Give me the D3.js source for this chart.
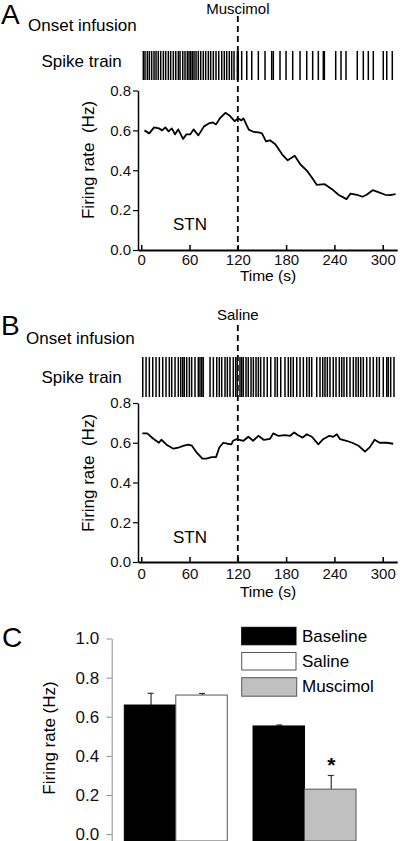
<!DOCTYPE html>
<html><head><meta charset="utf-8">
<script src="https://cdn.jsdelivr.net/npm/d3@7"></script>
<style>
body{margin:0;background:#fff}
svg{display:block}
text{font-family:"Liberation Sans",Arial,Helvetica,sans-serif;fill:#000}
.rot{opacity:0.995}
</style>
</head><body>
<svg id="c" width="420" height="841"></svg>
<script>
// ---------- DATA ----------
const timeTicks = [0, 60, 120, 180, 240, 300];
const rateTicks = [0, 0.2, 0.4, 0.6, 0.8];
const barTicks = [0, 0.2, 0.4, 0.6, 0.8, 1.0];
const infusionTime = 120;

// spike times (s)
const spikesA = [2.6,4.7,7.6,10.1,13.0,15.9,18.4,21.2,24.2,27.5,30.4,33.7,36.6,39.9,42.9,46.1,48.2,51.6,54.4,57.3,59.4,61.5,63.5,65.6,68.1,70.9,73.9,77.1,80.1,83.4,86.3,89.6,92.9,96.3,100.0,103.2,106.2,109.4,112.4,115.3,119.4,
  120.6,124.8,131.1,137.3,145.5,153.8,162.1,164.1,172.4,179.9,188.2,197.3,205.6,213.0,220.0,226.2,227.5,241.6,248.2,254.4,268.4,275.9,282.1,288.3,300.7,305.0,311.9];
const spikesB = [1.9,6.0,10.1,14.3,18.4,22.5,26.7,30.8,34.9,37.9,42.0,46.1,49.1,51.6,53.5,56.5,59.8,62.7,66.8,70.9,73.0,75.2,77.1,85.5,89.6,93.8,97.0,100.0,104.1,107.0,110.3,114.4,117.4,119.4,
  122.7,124.8,126.8,130.2,133.0,136.4,139.3,142.6,145.5,148.4,152.5,156.6,160.9,166.2,169.1,173.3,178.6,182.7,185.7,188.9,193.2,197.3,201.4,205.6,208.8,211.8,218.0,222.1,225.5,228.3,231.2,234.5,238.6,242.0,246.1,249.1,251.9,255.3,259.4,263.5,266.8,269.7,272.7,275.9,280.1,284.2,288.3,292.5,295.8,300.7,305.0,306.9,309.9,314.0];

// firing rate [time (s), rate (Hz)]
const rateA = [[4,0.60],[10,0.585],[16,0.615],[22,0.61],[26,0.60],[30,0.615],[34,0.595],[38,0.61],[42,0.58],[46,0.605],[52,0.557],[56,0.58],[61,0.58],[65,0.605],[71,0.575],[78,0.62],[84,0.635],[89,0.64],[93,0.63],[98,0.662],[104.6,0.688],[109.6,0.675],[116,0.646],[120,0.66],[124.5,0.65],[127,0.66],[133.6,0.604],[140,0.592],[146,0.59],[150,0.585],[155,0.545],[160,0.55],[166.6,0.53],[175,0.48],[182,0.45],[190.7,0.473],[197.6,0.43],[206,0.397],[212,0.364],[218,0.327],[228,0.33],[237,0.305],[245,0.277],[255,0.255],[260,0.283],[268,0.277],[275,0.267],[280,0.277],[287.6,0.30],[294.5,0.29],[303,0.277],[309,0.275],[316,0.28]];
const rateB = [[1.4,0.647],[7.5,0.647],[15,0.62],[22,0.60],[25,0.615],[32.5,0.587],[40,0.57],[46,0.575],[52,0.584],[58.5,0.59],[63,0.585],[69,0.55],[76,0.52],[81,0.52],[87.5,0.528],[93,0.528],[97,0.576],[102,0.60],[107,0.595],[112,0.592],[114,0.61],[118.6,0.618],[127,0.61],[133,0.63],[139,0.61],[145.5,0.635],[152.5,0.614],[160,0.62],[164,0.647],[170,0.635],[178.6,0.638],[185,0.635],[190,0.652],[195,0.638],[200.6,0.626],[205.6,0.643],[212,0.63],[220,0.592],[226,0.618],[233.7,0.635],[238.6,0.63],[243,0.643],[247,0.618],[255,0.61],[262,0.6],[270,0.585],[278,0.555],[284,0.578],[290,0.615],[296,0.6],[305,0.6],[313,0.595]];

// panel C
const groups = ["SalineGroup", "MuscimolGroup"];
const series = ["Baseline", "Treatment"];
const baselineMean = [0.66, 0.553];
const baselineSem = [0.06, 0.005];
const treatMean = [0.711, 0.23];
const treatSem = [0.008, 0.07];
const legendNames = ["Baseline", "Saline", "Muscimol"];

// ---------- DRAW ----------
const svg = d3.select("#c");

function panel(o) {
  const g = svg.append("g");
  const x = d3.scaleLinear().domain([-4, 318]).range([138, 397.2]);
  const y = d3.scaleLinear().domain([0, 0.8]).range([o.y0, o.y1]);

  g.append("text").attr("x", 1).attr("y", o.letterY).attr("font-size", 28).text(o.letter);
  g.append("text").attr("x", o.onsetX).attr("y", o.onsetY).attr("font-size", 17).text("Onset infusion");
  g.append("text").attr("x", x(infusionTime)).attr("y", o.drugY).attr("font-size", 15)
    .attr("text-anchor", "middle").text(o.drug);
  g.append("text").attr("x", 41.5).attr("y", o.spikeLabelY).attr("font-size", 17).text("Spike train");

  g.append("g").selectAll("line").data(o.spikes).join("line")
    .attr("x1", d => x(d)).attr("x2", d => x(d))
    .attr("y1", o.sTop).attr("y2", o.sBot)
    .attr("stroke", "#000").attr("stroke-width", 1.5);

  // axes
  const ya = g.append("g").attr("transform", `translate(${x(-4)},0)`)
    .call(d3.axisLeft(y).tickValues(rateTicks).tickFormat(d3.format(".1f"))
      .tickSizeInner(5).tickSizeOuter(0).tickPadding(2));
  ya.selectAll("text").attr("font-size", 15).attr("font-family", null).style("fill", "#111");
  ya.select(".domain").attr("stroke-width", 1.5);
  ya.selectAll(".tick line").attr("stroke-width", 1.2);

  const xa = g.append("g").attr("transform", `translate(0,${o.y0})`)
    .call(d3.axisBottom(x).tickValues(timeTicks)
      .tickSizeInner(-5).tickSizeOuter(0).tickPadding(o.xPad));
  xa.selectAll("text").attr("font-size", 15).attr("font-family", null).style("fill", "#111");
  xa.select(".domain").attr("stroke-width", 1.8);
  xa.selectAll(".tick line").attr("stroke-width", 1.5);

  // dashed infusion line
  g.append("line").attr("x1", x(infusionTime)).attr("x2", x(infusionTime))
    .attr("y1", o.dashTop).attr("y2", o.y0)
    .attr("stroke", "#000").attr("stroke-width", 1.8).attr("stroke-dasharray", "6,4");

  g.append("path").datum(o.rate)
    .attr("d", d3.line().x(d => x(d[0])).y(d => y(d[1])))
    .attr("fill", "none").attr("stroke", "#000").attr("stroke-width", 1.8)
    .attr("stroke-linejoin", "round");

  g.append("text").attr("x", 173).attr("y", o.stnY).attr("font-size", 17).text("STN");
  g.append("text").attr("x", 268).attr("y", o.timeY).attr("font-size", 15.5)
    .attr("text-anchor", "middle").text("Time (s)");
  g.append("text").attr("class", "rot").attr("transform", `translate(94,${o.frCenter}) rotate(-90)`)
    .attr("font-size", 17).attr("text-anchor", "middle").style("fill", "#000")
    .text("Firing rate\u00a0 (Hz)");
}

panel({letter:"A", drug:"Muscimol", spikes:spikesA, rate:rateA,
  y0:250, y1:90.5, sTop:51, sBot:80, letterY:24, onsetX:28, onsetY:31, drugY:13.5,
  spikeLabelY:67, dashTop:16, stnY:230, timeY:281, frCenter:160, xPad:4.5});
panel({letter:"B", drug:"Saline", spikes:spikesB, rate:rateB,
  y0:562, y1:403, sTop:357, sBot:397, letterY:335, onsetX:26, onsetY:344, drugY:320,
  spikeLabelY:383, dashTop:325, stnY:543, timeY:597, frCenter:473, xPad:6.5});

// ---------- PANEL C ----------
const gc = svg.append("g");
const yC = d3.scaleLinear().domain([-0.035, 1]).range([841, 638.5]);
const x0 = d3.scaleBand().domain(groups).range([124.3, 356]).paddingInner(0.2);
const x1 = d3.scaleBand().domain(series).range([0, x0.bandwidth()]);
const fills = {Baseline: "#000", Saline: "#fff", Muscimol: "#c0c0c0"};
const strokes = {Baseline: "#000", Saline: "#555", Muscimol: "#555"};

const barData = [];
groups.forEach((gname, i) => {
  barData.push({g: gname, s: "Baseline", v: baselineMean[i], e: baselineSem[i], c: "Baseline"});
  barData.push({g: gname, s: "Treatment", v: treatMean[i], e: treatSem[i], c: legendNames[i + 1]});
});

gc.append("text").attr("x", 2).attr("y", 647).attr("font-size", 28).text("C");

const ca = gc.append("g").attr("transform", `translate(111.7,0)`)
  .call(d3.axisLeft(yC).tickValues(barTicks).tickFormat(d3.format(".1f"))
    .tickSizeInner(5).tickSizeOuter(0).tickPadding(7.5));
ca.selectAll("text").attr("font-size", 17).attr("font-family", null).style("fill", "#111");
ca.select(".domain").attr("stroke", "#888").attr("stroke-width", 1);
ca.selectAll(".tick line").attr("stroke", "#888");

gc.append("text").attr("class", "rot").attr("transform", `translate(54.5,738) rotate(-90)`)
  .attr("font-size", 17).attr("text-anchor", "middle").style("fill", "#000")
  .text("Firing rate (Hz)");

// error bars
const eb = gc.append("g");
barData.forEach(d => {
  const cx = x0(d.g) + x1(d.s) + x1.bandwidth() / 2;
  eb.append("line").attr("x1", cx + 1).attr("x2", cx + 1)
    .attr("y1", yC(d.v)).attr("y2", yC(d.v + d.e)).attr("stroke", "#333").attr("stroke-width", 1.2);
  eb.append("line").attr("x1", cx - 2.5).attr("x2", cx + 3.5)
    .attr("y1", yC(d.v + d.e)).attr("y2", yC(d.v + d.e)).attr("stroke", "#333").attr("stroke-width", 1.2);
});

gc.append("g").selectAll("rect").data(barData).join("rect")
  .attr("x", d => x0(d.g) + x1(d.s))
  .attr("y", d => yC(d.v))
  .attr("width", x1.bandwidth())
  .attr("height", d => yC.range()[0] - yC(d.v))
  .attr("fill", d => fills[d.c])
  .attr("stroke", d => strokes[d.c]).attr("stroke-width", 1);

// significance asterisk
const mus = barData[3];
gc.append("text")
  .attr("x", x0(mus.g) + x1(mus.s) + x1.bandwidth() / 2 + 1)
  .attr("y", yC(mus.v + mus.e) - 3)
  .attr("font-size", 21).attr("font-weight", "bold").attr("text-anchor", "middle").text("*");

// legend
const lg = gc.append("g");
legendNames.forEach((n, i) => {
  lg.append("rect").attr("x", 241.7).attr("y", 627.3 + i * 25.2)
    .attr("width", 54.3 + (i === 2 ? 0.7 : 0)).attr("height", 17.5 + (i === 2 ? 1 : 0))
    .attr("fill", fills[n]).attr("stroke", strokes[n]).attr("stroke-width", 1);
  lg.append("text").attr("x", 302).attr("y", 641.5 + i * 25.2)
    .attr("font-size", 17).text(n);
});
</script>
</body></html>
